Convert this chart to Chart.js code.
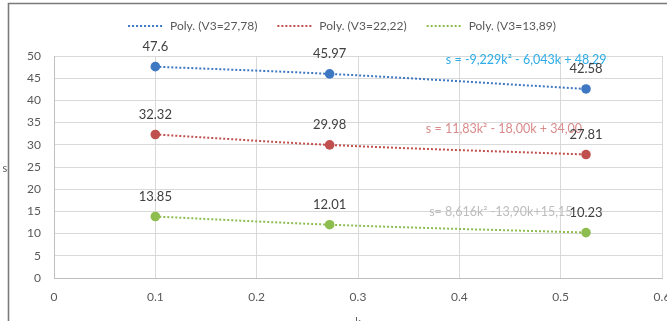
<!DOCTYPE html>
<html>
<head>
<meta charset="utf-8">
<script src="https://cdn.jsdelivr.net/npm/chart.js@4.4.1/dist/chart.umd.min.js"></script>
<style>
html,body{margin:0;padding:0;background:#fff;}
#wrap{position:relative;width:667px;height:321px;overflow:hidden;}
</style>
</head>
<body>
<div id="wrap"><canvas id="c" width="667" height="321"></canvas></div>
<script>
// ---- data ----
const kValues = [0.1, 0.272, 0.525];
const seriesNames = ['Poly. (V3=27,78)', 'Poly. (V3=22,22)', 'Poly. (V3=13,89)'];
const sV1 = [47.6, 45.97, 42.58];
const sV2 = [32.32, 29.98, 27.81];
const sV3 = [13.85, 12.01, 10.23];
const valueLabels1 = ['47.6', '45.97', '42.58'];
const valueLabels2 = ['32.32', '29.98', '27.81'];
const valueLabels3 = ['13.85', '12.01', '10.23'];
const equations = ['s = -9,229k\u00B2 - 6,043k + 48,29', 's = 11,83k\u00B2 - 18,00k + 34,00', 's= 8,616k\u00B2 -13,90k+15,15'];
const xTicks = [0, 0.1, 0.2, 0.3, 0.4, 0.5, 0.6];
const yTicks = [0, 5, 10, 15, 20, 25, 30, 35, 40, 45, 50];
const xTitle = 'k';
const yTitle = 's';

// ---- styling ----
const colors = ['#3E78C3', '#C0504D', '#8CBD4E'];
const eqColors = ['#2EACE6', '#D98B8B', '#BDBDBD'];
const eqAnchor = [[0.466, 49.1], [0.444, 33.6], [0.441, 14.9]];
const FONT = 'Lato';

const series = [sV1, sV2, sV3];
const valueLabels = [valueLabels1, valueLabels2, valueLabels3];

const datasets = series.map((vals, i) => ({
  label: seriesNames[i],
  data: kValues.map((k, j) => ({x: k, y: vals[j]})),
  showLine: true,
  borderColor: colors[i],
  backgroundColor: colors[i],
  borderWidth: 2,
  borderDash: [2, 2],
  cubicInterpolationMode: 'monotone',
  pointRadius: 4.8,
  pointHoverRadius: 4.8,
  pointBorderWidth: 0,
  pointBackgroundColor: colors[i]
}));

const framePlugin = {
  id: 'frame',
  beforeDraw(chart) {
    const ctx = chart.ctx;
    ctx.save();
    ctx.fillStyle = '#fff';
    ctx.fillRect(0, 0, chart.width, chart.height);
    ctx.strokeStyle = '#7a7a7a';
    ctx.lineWidth = 1.6;
    ctx.beginPath();
    ctx.moveTo(8.5, chart.height + 2);
    ctx.lineTo(8.5, 3.5);
    ctx.lineTo(chart.width + 2, 3.5);
    ctx.stroke();
    ctx.restore();
  }
};

const legendMargin = {
  id: 'legendMargin',
  beforeInit(chart) {
    const orig = chart.legend.fit;
    chart.legend.fit = function () {
      orig.bind(chart.legend)();
      this.height += 14;
    };
  }
};

const labelsPlugin = {
  id: 'valueLabels',
  afterDatasetsDraw(chart) {
    const ctx = chart.ctx;
    const xs = chart.scales.x, ys = chart.scales.y;
    ctx.save();
    ctx.textAlign = 'center';
    ctx.textBaseline = 'middle';
    // equations
    ctx.font = '12.5px ' + FONT;
    equations.forEach((t, i) => {
      ctx.fillStyle = eqColors[i];
      ctx.fillText(t, xs.getPixelForValue(eqAnchor[i][0]), ys.getPixelForValue(eqAnchor[i][1]));
    });
    // values
    ctx.font = '13px ' + FONT;
    ctx.fillStyle = '#404040';
    chart.data.datasets.forEach((ds, i) => {
      const meta = chart.getDatasetMeta(i);
      meta.data.forEach((pt, j) => {
        ctx.fillText(valueLabels[i][j], pt.x, pt.y - 20);
      });
    });
    // axis titles
    ctx.font = '11px ' + FONT;
    ctx.fillStyle = '#595959';
    ctx.fillText(yTitle, 5, (chart.chartArea.top + chart.chartArea.bottom) / 2 + 1);
    ctx.fillText(xTitle, (chart.chartArea.left + chart.chartArea.right) / 2, 322);
    ctx.restore();
  }
};

new Chart(document.getElementById('c'), {
  type: 'scatter',
  data: {datasets},
  plugins: [framePlugin, legendMargin, labelsPlugin],
  options: {
    responsive: false,
    devicePixelRatio: 1,
    animation: false,
    layout: {padding: {top: 0, right: 5, left: 22, bottom: 0}},
    plugins: {
      tooltip: {enabled: false},
      legend: {
        display: true,
        position: 'top',
        labels: {
          usePointStyle: true,
          pointStyle: 'line',
          pointStyleWidth: 36,
          padding: 20,
          color: '#595959',
          font: {family: FONT, size: 12},
          generateLabels(chart) {
            return chart.data.datasets.map((ds, i) => ({
              text: seriesNames[i],
              fillStyle: colors[i],
              strokeStyle: colors[i],
              lineWidth: 2,
              lineDash: [2, 2],
              pointStyle: 'line',
              datasetIndex: i,
              hidden: false,
              fontColor: '#595959'
            }));
          }
        }
      }
    },
    scales: {
      x: {
        type: 'linear',
        min: 0, max: 0.6,
        afterBuildTicks(s) { s.ticks = xTicks.map(v => ({value: v})); },
        afterFit(s) { s.height = 43; s.paddingLeft = 0; s.paddingRight = 0; },
        grid: {color: '#D9D9D9', lineWidth: 1, drawTicks: false},
        border: {color: '#BFBFBF'},
        ticks: {
          padding: 12,
          color: '#595959',
          font: {family: FONT, size: 12},
          callback: v => String(v),
          maxRotation: 0
        }
      },
      y: {
        min: 0, max: 50,
        afterBuildTicks(s) { s.ticks = yTicks.map(v => ({value: v})); },
        afterFit(s) { s.width = 32; },
        grid: {color: '#D9D9D9', lineWidth: 1, drawTicks: false},
        border: {color: '#BFBFBF'},
        ticks: {
          padding: 13,
          color: '#595959',
          font: {family: FONT, size: 12},
          callback: v => String(v)
        }
      }
    }
  }
});
</script>
</body>
</html>
